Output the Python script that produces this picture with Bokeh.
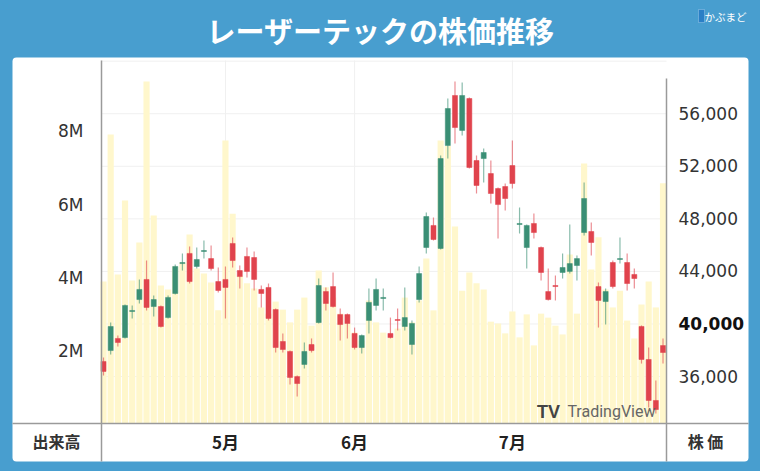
from bokeh.plotting import figure
from bokeh.models import (ColumnDataSource, Range1d, LinearAxis, FixedTicker,
                          NumeralTickFormatter, Label, BoxAnnotation)
from bokeh.embed import file_html
from bokeh.resources import INLINE

try:
    from bokeh.models import GlobalInlineStyleSheet
    sheets = [GlobalInlineStyleSheet(css="html, body { background-color: #489ecf !important; }")]
except Exception:
    sheets = []

BLUE = "#489ecf"
GREEN = "#3a8f75"
RED = "#e0434d"
VOLC = "#fff7cc"
LINE = "#9a9a9a"

title_text = "レーザーテックの株価推移"
month_ticks = [17, 35, 57]
month_labels = ["5月", "6月", "7月"]
price_ticks = [36000, 40000, 44000, 48000, 52000, 56000]
grid_price_ticks = [36000, 40000, 44000, 48000, 52000, 56000, 60000]
vol_ticks = [2, 4, 6, 8]

opens = [37150, 37980, 38900, 38970, 40950, 41860, 43390, 41330, 41330, 40490,
         42320, 44600, 45370, 44380, 45520, 44980, 43230, 43390, 46130, 44070,
         45140, 45060, 42630, 42780, 41100, 38670, 37910, 36000, 36920, 38440,
         40110, 42470, 42850, 40720, 40720, 39280, 38210, 40270, 41410, 41940,
         39280, 40340, 39810, 38440, 41860, 45820, 47500, 45750, 53580, 57390,
         54730, 57160, 52440, 52590, 51450, 50310, 50460, 52060, 47570, 45820,
         47650, 45820, 42470, 42930, 43920, 44000, 44450, 46960, 47040, 42850,
         41710, 44680, 44910, 44680, 43770, 39810, 37300, 34180, 38360]
highs = [37450, 40110, 39120, 41480, 41410, 43390, 44830, 42170, 41410, 42170,
         44530, 45370, 45900, 45820, 46350, 45970, 44300, 44380, 46580, 44450,
         45820, 45520, 42930, 43080, 41180, 39280, 37980, 36080, 38590, 38900,
         43460, 42780, 43920, 41180, 40800, 39730, 39200, 42700, 43460, 42700,
         40490, 41180, 42780, 40270, 44380, 48490, 48100, 52820, 57160, 58450,
         58380, 57240, 52820, 53360, 52440, 50390, 50690, 53960, 48870, 47570,
         48410, 45900, 44220, 43690, 45370, 47570, 45210, 50770, 47720, 43160,
         42700, 44830, 46580, 45370, 44220, 39890, 38210, 35700, 38900]
lows = [36080, 37680, 38290, 38900, 40420, 41560, 41030, 40570, 39730, 40420,
        42250, 44070, 43080, 44220, 44980, 44070, 42400, 40420, 44300, 42700,
        43540, 42550, 41260, 40270, 37830, 37830, 35400, 34480, 36610, 37830,
        40040, 41030, 41260, 38740, 38900, 38060, 37760, 39280, 41030, 41030,
        38900, 39500, 39500, 37680, 41640, 45370, 46350, 45670, 52590, 53740,
        54340, 51830, 49930, 50770, 49170, 46510, 48640, 50310, 46890, 44220,
        46510, 43310, 41790, 41790, 43460, 43840, 43310, 46730, 45210, 39730,
        39960, 42700, 44600, 42550, 42700, 36990, 33640, 33190, 36990]
closes = [36390, 39810, 38590, 41410, 41030, 42630, 41260, 41860, 39810, 42020,
          44380, 44680, 43230, 44910, 45590, 44220, 42550, 42780, 44830, 43610,
          44000, 43390, 42320, 40420, 38210, 38060, 35930, 35470, 37910, 37980,
          42930, 41560, 41330, 39960, 40040, 38210, 39120, 41640, 42630, 42020,
          38970, 40270, 40490, 40040, 43840, 48180, 46430, 52590, 56400, 54950,
          57390, 51910, 50540, 53050, 49930, 49090, 49550, 50690, 47650, 47500,
          46960, 43920, 41860, 42850, 44300, 44600, 44980, 49550, 46200, 41790,
          42470, 42850, 44980, 43080, 43460, 37300, 34180, 33490, 37830]
volumes_m = [3.89, 7.92, 4.08, 6.11, 3.92, 4.96, 9.37, 5.70, 3.78, 3.67,
             4.30, 4.41, 5.18, 4.25, 4.11, 3.86, 3.10, 7.75, 5.75, 4.05,
             3.84, 3.70, 3.18, 3.01, 3.34, 3.12, 2.77, 3.12, 3.45, 2.68,
             4.19, 3.73, 3.45, 3.01, 2.74, 2.49, 2.27, 3.37, 2.77, 2.49,
             2.36, 2.60, 3.45, 2.77, 3.37, 4.52, 3.10, 7.75, 7.60, 5.40,
             3.64, 4.14, 3.84, 3.67, 2.79, 2.74, 2.47, 3.07, 2.36, 2.99,
             2.14, 3.01, 2.90, 2.68, 2.44, 4.63, 3.01, 7.12, 4.22, 5.10,
             3.67, 3.18, 3.64, 2.82, 2.33, 3.26, 3.89, 3.18, 6.58]

n = len(opens)
idx = list(range(n))
colors = [GREEN if c >= o else RED for o, c in zip(opens, closes)]
body_top = [max(o, c) for o, c in zip(opens, closes)]
body_bot = [min(o, c) for o, c in zip(opens, closes)]

src = ColumnDataSource(dict(x=idx, open=opens, high=highs, low=lows, close=closes,
                            top=body_top, bottom=body_bot, color=colors, vol=volumes_m))

# layout constants (data units of the chart area edges)
X_LEFT, X_RIGHT = -0.279, 78.49        # chart area left / right edge
PANEL_X = (-12.69, 89.92)              # white panel horizontal extent
VOL_TOP = 9.945                        # volume at chart top
VOL_BOUNDS = (-1.041, VOL_TOP)         # left separator line extent
PRICE_BOUNDS = (29536, 58683)          # right separator line extent

W, H = 760, 471
p = figure(width=W, height=H, x_range=Range1d(-14.36, 91.59), y_range=Range1d(-1.315, 11.589),
           output_backend="svg", toolbar_location=None, min_border=0,
           border_fill_color=BLUE, background_fill_color=BLUE, outline_line_color=None,
           stylesheets=sheets)
p.extra_y_ranges = {"price": Range1d(28775, 64618)}
p.xgrid.visible = False
p.ygrid.visible = False

# white panel
p.add_layout(BoxAnnotation(left=12, right=748, top=H - 57, bottom=H - 461,
                           left_units="screen", right_units="screen", top_units="screen", bottom_units="screen",
                           fill_color="white", fill_alpha=1, line_color=None, level="image", border_radius=4))

# faint grid lines inside the chart area
p.segment(x0=[X_LEFT] * len(grid_price_ticks), x1=[X_RIGHT] * len(grid_price_ticks),
          y0=grid_price_ticks, y1=grid_price_ticks, line_color="#f0f0f0", line_width=1,
          y_range_name="price")
p.segment(x0=month_ticks, x1=month_ticks, y0=[0] * len(month_ticks), y1=[VOL_TOP] * len(month_ticks),
          line_color="#f0f0f0", line_width=1)

# volume bars
p.vbar(x="x", top="vol", bottom=0, width=0.86, source=src, fill_color=VOLC, line_color=None)

# candles
p.segment(x0="x", y0="high", x1="x", y1="low", source=src, line_color="color", line_alpha=0.6,
          line_width=1.2, y_range_name="price")
p.vbar(x="x", top="top", bottom="bottom", width=0.7, source=src, fill_color="color", line_color="color",
       line_width=0.5, y_range_name="price")

# axes (fixed inside the canvas, their lines are the separators)
xa = p.xaxis[0]
xa.fixed_location = 0
xa.bounds = PANEL_X
xa.ticker = FixedTicker(ticks=month_ticks)
xa.major_label_overrides = {t: l for t, l in zip(month_ticks, month_labels)}
xa.axis_line_color = LINE
xa.axis_line_width = 1.5
xa.major_tick_line_color = None
xa.minor_tick_line_color = None
xa.major_tick_out = 0
xa.major_tick_in = 0
xa.major_label_standoff = 5
xa.major_label_text_font = "Noto Sans CJK JP"
xa.major_label_text_font_style = "bold"
xa.major_label_text_font_size = "17px"
xa.major_label_text_color = "#222222"

va = p.yaxis[0]
va.fixed_location = X_LEFT
va.bounds = VOL_BOUNDS
va.ticker = FixedTicker(ticks=vol_ticks)
va.major_label_overrides = {t: f"{t}M" for t in vol_ticks}
va.axis_line_color = LINE
va.axis_line_width = 1.5
va.major_tick_line_color = None
va.minor_tick_line_color = None
va.major_tick_out = 0
va.major_tick_in = 0
va.major_label_standoff = 18
va.major_label_text_font = "DejaVu Sans"
va.major_label_text_font_size = "17px"
va.major_label_text_color = "#333333"

pa = LinearAxis(y_range_name="price", ticker=FixedTicker(ticks=price_ticks),
                formatter=NumeralTickFormatter(format="0,0"),
                major_label_overrides={40000: " "})
pa.fixed_location = X_RIGHT
pa.bounds = PRICE_BOUNDS
pa.axis_line_color = LINE
pa.axis_line_width = 1.5
pa.major_tick_line_color = None
pa.minor_tick_line_color = None
pa.major_tick_out = 0
pa.major_tick_in = 0
pa.major_label_standoff = 12
pa.major_label_text_font = "DejaVu Sans"
pa.major_label_text_font_size = "17px"
pa.major_label_text_color = "#333333"
p.add_layout(pa, "right")

# bold current-price tick
p.add_layout(Label(x=678, y=40000, x_units="screen", y_range_name="price", text="40,000",
                   text_font="DejaVu Sans", text_font_style="bold", text_font_size="17px",
                   text_color="#111111", text_align="left", text_baseline="middle"))

# texts (screen units: from left, from bottom)
def lab(x, y, text, **kw):
    p.add_layout(Label(x=x, y=H - y, x_units="screen", y_units="screen", text=text, **kw))

lab(380, 29, title_text, text_font="Noto Sans CJK JP", text_font_style="bold",
    text_font_size="29px", text_color="white", text_align="center", text_baseline="middle")
p.add_layout(BoxAnnotation(left=698, right=704, top=H - 9, bottom=H - 22,
                           left_units="screen", right_units="screen", top_units="screen", bottom_units="screen",
                           fill_color="#2a7fc6", fill_alpha=1, line_color="#dcefff", line_width=1,
                           level="overlay"))
lab(725, 16, "かぶまど", text_font="Noto Sans CJK JP", text_font_size="10.5px",
    text_color="white", text_align="center", text_baseline="middle")
lab(56, 440, "出来高", text_font="Noto Sans CJK JP", text_font_style="bold",
    text_font_size="16px", text_color="#333333", text_align="center", text_baseline="middle")
lab(705, 440, "株 価", text_font="Noto Sans CJK JP", text_font_style="bold",
    text_font_size="16px", text_color="#333333", text_align="center", text_baseline="middle")
lab(655, 411, "TradingView", text_font="Roboto", text_font_size="16px",
    text_color="#666666", text_align="right", text_baseline="middle")
lab(548, 411, "TV", text_font="Liberation Sans", text_font_style="bold",
    text_font_size="18px", text_color="#444444", text_align="center", text_baseline="middle")

open("out.html", "w").write(file_html(p, INLINE))
